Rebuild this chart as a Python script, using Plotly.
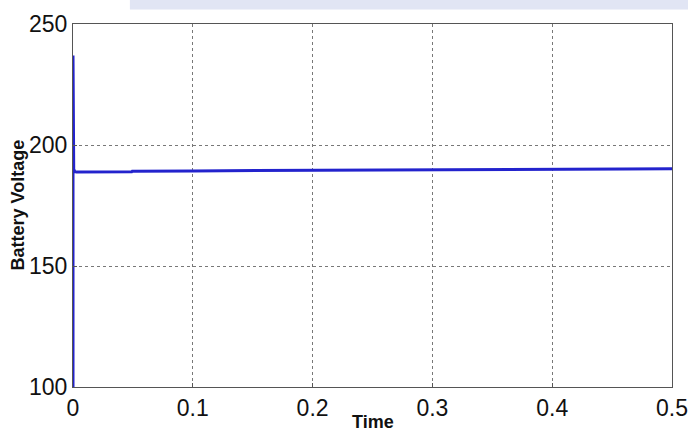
import plotly.graph_objects as go

# Data
time = [0.0, 0.0, 0.0003, 0.0006, 0.0015, 0.003, 0.049, 0.0495, 0.1, 0.2, 0.3, 0.4, 0.46, 0.4605, 0.5]
voltage = [100.0, 237.0, 193.0, 190.0, 189.0, 188.8, 188.9, 189.2, 189.3, 189.5, 189.6, 189.7, 189.8, 190.1, 190.2]

x_ticks = [0, 0.1, 0.2, 0.3, 0.4, 0.5]
x_tick_labels = ["0", "0.1", "0.2", "0.3", "0.4", "0.5"]
y_ticks = [100, 150, 200, 250]
y_tick_labels = ["100", "150", "200", "250"]

fig = go.Figure()
fig.add_trace(go.Scatter(x=time, y=voltage, mode="lines",
                         line=dict(color="rgb(35,35,205)", width=3),
                         showlegend=False))

tick_font = dict(family="Liberation Sans, Arial, sans-serif", size=23, color="#111")
title_font = dict(family="Liberation Sans, Arial, sans-serif", size=18, color="#111")

fig.update_layout(
    width=688, height=436,
    margin=dict(l=73, r=16, t=24, b=49),
    paper_bgcolor="white", plot_bgcolor="white",
    xaxis=dict(range=[0, 0.5], tickvals=x_ticks, ticktext=x_tick_labels,
               showgrid=True, gridcolor="rgb(120,120,120)", griddash="dot", gridwidth=1,
               showline=True, mirror=True, linecolor="#555", linewidth=1,
               ticks="inside", ticklen=4, tickcolor="#555", automargin=False,
               tickfont=tick_font, zeroline=False),
    yaxis=dict(range=[100, 250], tickvals=y_ticks, ticktext=y_tick_labels,
               showgrid=True, gridcolor="rgb(120,120,120)", griddash="dot", gridwidth=1,
               showline=True, mirror=True, linecolor="#555", linewidth=1,
               ticks="inside", ticklen=4, tickcolor="#555", automargin=False,
               tickfont=tick_font, zeroline=False, ticklabelstandoff=0),
    annotations=[
        dict(text="<b>Battery Voltage</b>", xref="paper", yref="paper", x=0, y=0.5,
             xanchor="center", yanchor="middle", xshift=-56, textangle=-90,
             showarrow=False, font=title_font),
        dict(text="<b>Time</b>", xref="paper", yref="paper", x=0.5, y=0,
             xanchor="center", yanchor="middle", yshift=-35,
             showarrow=False, font=title_font),
    ],
    shapes=[
        dict(type="rect", xref="paper", yref="paper", x0=0.095, x1=1.03, y0=1.04, y1=1.07,
             fillcolor="rgba(205,212,236,0.6)", line=dict(width=0), layer="below"),
    ],
)

fig.write_html("out.html", config={"displayModeBar": False},
               post_script="document.body.style.margin='0';")
